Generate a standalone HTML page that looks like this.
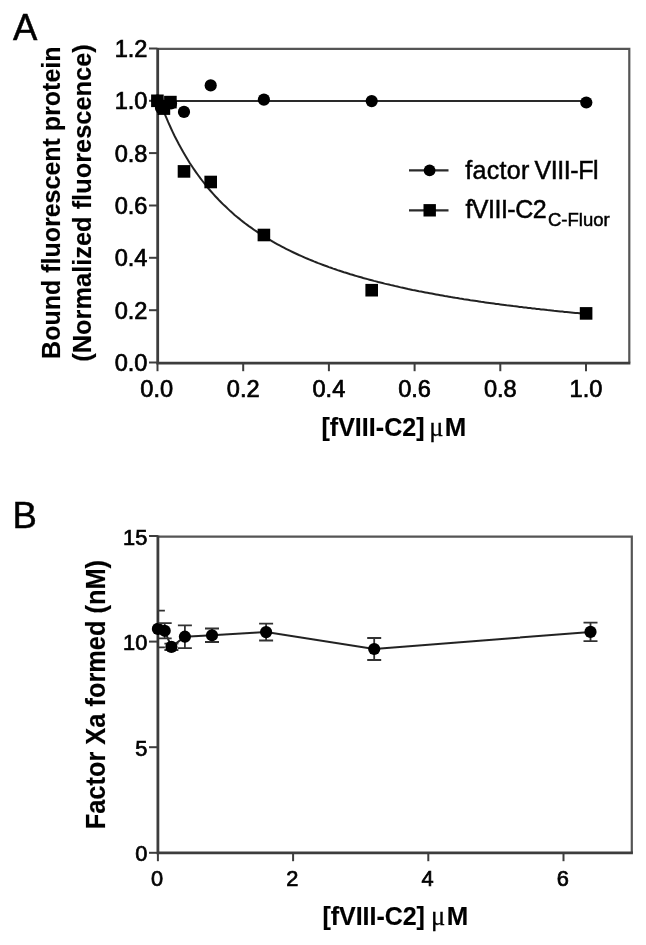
<!DOCTYPE html>
<html><head><meta charset="utf-8"><title>Figure</title>
<style>
html,body{margin:0;padding:0;background:#fff;}
body{width:646px;height:945px;overflow:hidden;}
svg{display:block;}
text{font-family:"Liberation Sans",Arial,Helvetica,sans-serif;fill:#000;}
.tick{font-size:23.6px;stroke:#000;stroke-width:0.7px;}
.tb{font-size:21.8px;}
.ttl{font-size:25px;font-weight:bold;stroke:#000;stroke-width:0.15px;}
.mu{font-family:"Liberation Serif","DejaVu Serif",serif;font-size:26.5px;font-weight:normal;stroke:#000;stroke-width:0.3px;}
.pan{font-size:36.5px;stroke:#000;stroke-width:0.5px;}
.leg{font-size:25px;stroke:#000;stroke-width:0.5px;}
</style></head><body>
<svg width="646" height="945" viewBox="0 0 646 945">
<rect width="646" height="945" fill="#fff"/>
<g filter="url(#b)">

<path d="M157.5 48.9H629.3V362.5" fill="none" stroke="#555" stroke-width="2.2"/>
<path d="M157.7 48V363.1H630.4" fill="none" stroke="#3c3c3c" stroke-width="2.8"/>
<line x1="149" x2="157.5" y1="362.5" y2="362.5" stroke="#3c3c3c" stroke-width="2"/>
<text class="tick" x="147.5" y="371.0" text-anchor="end">0.0</text>
<line x1="149" x2="157.5" y1="310.2" y2="310.2" stroke="#3c3c3c" stroke-width="2"/>
<text class="tick" x="147.5" y="318.7" text-anchor="end">0.2</text>
<line x1="149" x2="157.5" y1="257.8" y2="257.8" stroke="#3c3c3c" stroke-width="2"/>
<text class="tick" x="147.5" y="266.3" text-anchor="end">0.4</text>
<line x1="149" x2="157.5" y1="205.5" y2="205.5" stroke="#3c3c3c" stroke-width="2"/>
<text class="tick" x="147.5" y="214.0" text-anchor="end">0.6</text>
<line x1="149" x2="157.5" y1="153.1" y2="153.1" stroke="#3c3c3c" stroke-width="2"/>
<text class="tick" x="147.5" y="161.6" text-anchor="end">0.8</text>
<line x1="149" x2="157.5" y1="100.8" y2="100.8" stroke="#3c3c3c" stroke-width="2"/>
<text class="tick" x="147.5" y="109.3" text-anchor="end">1.0</text>
<line x1="149" x2="157.5" y1="48.5" y2="48.5" stroke="#3c3c3c" stroke-width="2"/>
<text class="tick" x="147.5" y="57.0" text-anchor="end">1.2</text>
<line y1="362.8" y2="371.2" x1="157.5" x2="157.5" stroke="#3c3c3c" stroke-width="2"/>
<text class="tick" x="156.7" y="396.6" text-anchor="middle">0.0</text>
<line y1="362.8" y2="371.2" x1="243.2" x2="243.2" stroke="#3c3c3c" stroke-width="2"/>
<text class="tick" x="243.2" y="396.6" text-anchor="middle">0.2</text>
<line y1="362.8" y2="371.2" x1="328.9" x2="328.9" stroke="#3c3c3c" stroke-width="2"/>
<text class="tick" x="328.9" y="396.6" text-anchor="middle">0.4</text>
<line y1="362.8" y2="371.2" x1="414.6" x2="414.6" stroke="#3c3c3c" stroke-width="2"/>
<text class="tick" x="414.6" y="396.6" text-anchor="middle">0.6</text>
<line y1="362.8" y2="371.2" x1="500.3" x2="500.3" stroke="#3c3c3c" stroke-width="2"/>
<text class="tick" x="500.3" y="396.6" text-anchor="middle">0.8</text>
<line y1="362.8" y2="371.2" x1="586.0" x2="586.0" stroke="#3c3c3c" stroke-width="2"/>
<text class="tick" x="586.0" y="396.6" text-anchor="middle">1.0</text>
<line x1="157.5" x2="586" y1="101" y2="101" stroke="#2a2a2a" stroke-width="2.2"/>
<path d="M157.5 95.1L159.6 101.0L161.8 106.7L163.9 112.1L166.1 117.2L168.2 122.2L170.4 127.0L172.5 131.6L174.6 136.0L176.8 140.2L178.9 144.3L181.1 148.2L183.2 152.0L185.4 155.7L187.5 159.2L189.6 162.7L191.8 166.0L193.9 169.2L196.1 172.3L198.2 175.3L200.3 178.2L202.5 181.0L204.6 183.7L206.8 186.4L208.9 189.0L211.1 191.5L213.2 193.9L215.3 196.2L217.5 198.5L219.6 200.8L221.8 203.0L223.9 205.1L226.1 207.1L228.2 209.1L230.3 211.1L232.5 213.0L234.6 214.9L236.8 216.7L238.9 218.4L241.1 220.2L243.2 221.9L245.3 223.5L247.5 225.1L249.6 226.7L251.8 228.2L253.9 229.7L256.1 231.2L258.2 232.6L260.3 234.0L262.5 235.4L264.6 236.8L266.8 238.1L268.9 239.4L271.1 240.6L273.2 241.9L275.3 243.1L277.5 244.3L279.6 245.4L281.8 246.6L283.9 247.7L286.0 248.8L288.2 249.9L290.3 250.9L292.5 252.0L294.6 253.0L296.8 254.0L298.9 255.0L301.0 255.9L303.2 256.9L305.3 257.8L307.5 258.7L309.6 259.6L311.8 260.5L313.9 261.4L316.0 262.2L318.2 263.1L320.3 263.9L322.5 264.7L324.6 265.5L326.8 266.3L328.9 267.1L331.0 267.8L333.2 268.6L335.3 269.3L337.5 270.1L339.6 270.8L341.8 271.5L343.9 272.2L346.0 272.8L348.2 273.5L350.3 274.2L352.5 274.8L354.6 275.5L356.8 276.1L358.9 276.7L361.0 277.3L363.2 278.0L365.3 278.6L367.5 279.1L369.6 279.7L371.8 280.3L373.9 280.9L376.0 281.4L378.2 282.0L380.3 282.5L382.5 283.0L384.6 283.6L386.7 284.1L388.9 284.6L391.0 285.1L393.2 285.6L395.3 286.1L397.5 286.6L399.6 287.1L401.7 287.6L403.9 288.0L406.0 288.5L408.2 289.0L410.3 289.4L412.5 289.9L414.6 290.3L416.7 290.7L418.9 291.2L421.0 291.6L423.2 292.0L425.3 292.4L427.5 292.8L429.6 293.2L431.7 293.6L433.9 294.0L436.0 294.4L438.2 294.8L440.3 295.2L442.5 295.6L444.6 296.0L446.7 296.3L448.9 296.7L451.0 297.1L453.2 297.4L455.3 297.8L457.4 298.1L459.6 298.5L461.7 298.8L463.9 299.2L466.0 299.5L468.2 299.8L470.3 300.2L472.4 300.5L474.6 300.8L476.7 301.1L478.9 301.4L481.0 301.8L483.2 302.1L485.3 302.4L487.4 302.7L489.6 303.0L491.7 303.3L493.9 303.6L496.0 303.9L498.2 304.1L500.3 304.4L502.4 304.7L504.6 305.0L506.7 305.3L508.9 305.5L511.0 305.8L513.2 306.1L515.3 306.3L517.4 306.6L519.6 306.9L521.7 307.1L523.9 307.4L526.0 307.6L528.2 307.9L530.3 308.1L532.4 308.4L534.6 308.6L536.7 308.9L538.9 309.1L541.0 309.4L543.2 309.6L545.3 309.8L547.4 310.1L549.6 310.3L551.7 310.5L553.9 310.8L556.0 311.0L558.1 311.2L560.3 311.4L562.4 311.6L564.6 311.9L566.7 312.1L568.9 312.3L571.0 312.5L573.1 312.7L575.3 312.9L577.4 313.1L579.6 313.3L581.7 313.5L583.9 313.7L586.0 313.9" fill="none" stroke="#222" stroke-width="2"/>
<circle cx="157.5" cy="100.5" r="6.1" fill="#000"/>
<circle cx="161" cy="108" r="6.1" fill="#000"/>
<circle cx="165" cy="106" r="6.1" fill="#000"/>
<circle cx="171" cy="103.5" r="6.1" fill="#000"/>
<circle cx="184.0" cy="111.9" r="6.1" fill="#000"/>
<circle cx="210.7" cy="85.4" r="6.1" fill="#000"/>
<circle cx="263.9" cy="99.6" r="6.1" fill="#000"/>
<circle cx="371.7" cy="101.1" r="6.1" fill="#000"/>
<circle cx="586.3" cy="102.5" r="6.1" fill="#000"/>
<rect x="151.1" y="94.5" width="12.6" height="12.6" fill="#000"/>
<rect x="157.6" y="102.3" width="12.6" height="12.6" fill="#000"/>
<rect x="164.1" y="95.8" width="12.6" height="12.6" fill="#000"/>
<rect x="177.7" y="165.1" width="12.6" height="12.6" fill="#000"/>
<rect x="204.4" y="175.7" width="12.6" height="12.6" fill="#000"/>
<rect x="257.6" y="228.7" width="12.6" height="12.6" fill="#000"/>
<rect x="365.4" y="283.9" width="12.6" height="12.6" fill="#000"/>
<rect x="579.8" y="307.1" width="12.6" height="12.6" fill="#000"/>
<line x1="409" x2="448.5" y1="170.3" y2="170.3" stroke="#2a2a2a" stroke-width="2.3"/><circle cx="429.6" cy="170.3" r="5.9" fill="#000"/>
<line x1="409" x2="448.5" y1="210.4" y2="210.4" stroke="#2a2a2a" stroke-width="2.3"/><rect x="423.5" y="204.1" width="12.4" height="12.4" fill="#000"/>
<text class="leg" y="178.9"><tspan x="465.2" letter-spacing="0.3">factor</tspan> <tspan x="534.4" letter-spacing="-0.4">VIII-Fl</tspan></text>
<text class="leg" y="217.6"><tspan x="465.4" letter-spacing="-0.5">fVIII-C2</tspan><tspan style="font-size:18.5px" x="548" y="225.7">C-Fluor</tspan></text>
<text class="ttl" text-anchor="middle" transform="translate(59.8 202.7) rotate(-90) scale(1 1.04)">Bound fluorescent protein</text>
<text class="ttl" style="font-size:25.4px" text-anchor="middle" transform="translate(90.8 203) rotate(-90) scale(1 1.04)">(Normalized fluorescence)</text>
<text class="ttl" y="435.6"><tspan x="321.4" letter-spacing="0.05">[fVIII-C2]</tspan> <tspan class="mu" x="429.2">μ</tspan><tspan style="font-size:25.8px" x="444.8">M</tspan></text>
<text class="pan" x="13" y="40.2">A</text>
<text class="pan" x="12.4" y="528.3">B</text>
<path d="M157.9 536.6H631.8V852.8" fill="none" stroke="#555" stroke-width="2.2"/>
<path d="M157.9 535.5V852.8H632.9" fill="none" stroke="#3c3c3c" stroke-width="2.8"/>
<line x1="149" x2="157.9" y1="852.8" y2="852.8" stroke="#3c3c3c" stroke-width="2"/>
<text class="tick tb" x="147.3" y="861.4" text-anchor="end">0</text>
<line x1="149" x2="157.9" y1="747.2" y2="747.2" stroke="#3c3c3c" stroke-width="2"/>
<text class="tick tb" x="147.3" y="755.8" text-anchor="end">5</text>
<line x1="149" x2="157.9" y1="641.6" y2="641.6" stroke="#3c3c3c" stroke-width="2"/>
<text class="tick tb" x="147.3" y="650.2" text-anchor="end">10</text>
<line x1="149" x2="157.9" y1="536.0" y2="536.0" stroke="#3c3c3c" stroke-width="2"/>
<text class="tick tb" x="147.3" y="544.6" text-anchor="end">15</text>
<line y1="852.8" y2="861.2" x1="157.9" x2="157.9" stroke="#3c3c3c" stroke-width="2"/>
<text class="tick tb" x="157.1" y="886.3" text-anchor="middle">0</text>
<line y1="852.8" y2="861.2" x1="293.1" x2="293.1" stroke="#3c3c3c" stroke-width="2"/>
<text class="tick tb" x="292.3" y="886.3" text-anchor="middle">2</text>
<line y1="852.8" y2="861.2" x1="428.3" x2="428.3" stroke="#3c3c3c" stroke-width="2"/>
<text class="tick tb" x="427.5" y="886.3" text-anchor="middle">4</text>
<line y1="852.8" y2="861.2" x1="563.5" x2="563.5" stroke="#3c3c3c" stroke-width="2"/>
<text class="tick tb" x="562.7" y="886.3" text-anchor="middle">6</text>
<path d="M157.9 628.9L164.7 630.8L171.4 646.9L184.9 636.7L212.0 635.3L266.1 632.1L374.2 649.0L590.5 631.9" fill="none" stroke="#222" stroke-width="2"/>
<path d="M157.9 610.6V647.3M158.5 610.6h6.4M158.5 647.3h6.4" stroke="#333" stroke-width="1.8" fill="none"/>
<circle cx="157.9" cy="628.9" r="6.1" fill="#000"/>
<path d="M164.7 623.2V638.4M158.5 623.2h13.2M158.5 638.4h13.2" stroke="#333" stroke-width="1.8" fill="none"/>
<circle cx="164.7" cy="630.8" r="6.1" fill="#000"/>
<path d="M171.4 643.7V650.0M164.4 643.7h14.0M164.4 650.0h14.0" stroke="#333" stroke-width="1.8" fill="none"/>
<circle cx="171.4" cy="646.9" r="6.1" fill="#000"/>
<path d="M184.9 625.3V648.1M177.9 625.3h14.0M177.9 648.1h14.0" stroke="#333" stroke-width="1.8" fill="none"/>
<circle cx="184.9" cy="636.7" r="6.1" fill="#000"/>
<path d="M212.0 628.5V642.0M205.0 628.5h14.0M205.0 642.0h14.0" stroke="#333" stroke-width="1.8" fill="none"/>
<circle cx="212.0" cy="635.3" r="6.1" fill="#000"/>
<path d="M266.1 623.6V640.5M259.1 623.6h14.0M259.1 640.5h14.0" stroke="#333" stroke-width="1.8" fill="none"/>
<circle cx="266.1" cy="632.1" r="6.1" fill="#000"/>
<path d="M374.2 638.0V660.0M367.2 638.0h14.0M367.2 660.0h14.0" stroke="#333" stroke-width="1.8" fill="none"/>
<circle cx="374.2" cy="649.0" r="6.1" fill="#000"/>
<path d="M590.5 622.6V641.2M583.5 622.6h14.0M583.5 641.2h14.0" stroke="#333" stroke-width="1.8" fill="none"/>
<circle cx="590.5" cy="631.9" r="6.1" fill="#000"/>
<text class="ttl" style="font-size:25.4px" text-anchor="middle" transform="translate(105.3 694.6) rotate(-90) scale(1 1.09)">Factor Xa formed (nM)</text>
<text class="ttl" y="924.8"><tspan x="322.6" letter-spacing="-0.06">[fVIII-C2]</tspan> <tspan class="mu" x="431">μ</tspan><tspan style="font-size:25.8px" x="446.8">M</tspan></text>
</g><defs><filter id="b" x="0" y="0" width="646" height="945" filterUnits="userSpaceOnUse"><feGaussianBlur stdDeviation="0.6"/></filter></defs></svg></body></html>
